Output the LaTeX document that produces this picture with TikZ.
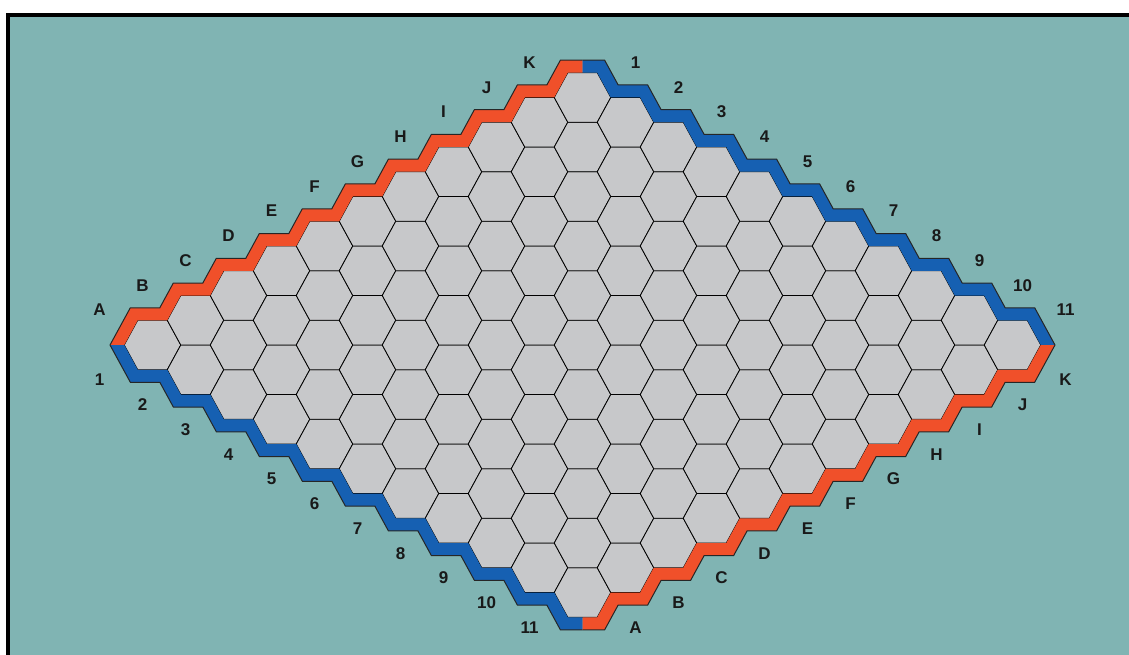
\documentclass[tikz,border=0pt]{standalone}
\usepackage{fontspec}
\setmainfont{Liberation Sans}
\usepackage{tikz}
\usetikzlibrary{calc}
\definecolor{boardteal}{RGB}{128, 180, 179}
\definecolor{cellgray}{RGB}{199, 200, 202}
\definecolor{hexred}{RGB}{240, 80, 42}
\definecolor{hexblue}{RGB}{22, 96, 178}
\tikzset{
  hexcell/.style={fill=cellgray, draw=black, line width=0.8pt, line join=round},
  redband/.style={fill=hexred},
  blueband/.style={fill=hexblue},
  bandline/.style={draw=black!85, line width=1pt, line join=miter},
  sidelabel/.style={font=\fontsize{17}{19}\selectfont\bfseries, text=black!90, inner sep=0pt},
  frameline/.style={draw=black, line width=4pt},
}
% one side of the board: band (fill style #1), label names (#2), index/label pairs (#3)
\newcommand{\boardside}[3]{%
  \fill[#1] (-472.5,0)
    \foreach \k in {0,...,9}{ -- ({43*\k-452.18},{-24.75*\k-37.25}) -- ({43*\k-422.68},{-24.75*\k-37.25}) }
    -- (-22.18,-284.75) -- (0,-284.75) -- (0,-272.25) -- (-14.75,-272.25)
    \foreach \k in {9,...,0}{ -- ({43*\k-415.25},{-24.75*\k-24.75}) -- ({43*\k-444.75},{-24.75*\k-24.75}) }
    -- (-458.25,0) -- cycle;
  \draw[bandline] (-472.5,0)
    \foreach \k in {0,...,9}{ -- ({43*\k-452.18},{-24.75*\k-37.25}) -- ({43*\k-422.68},{-24.75*\k-37.25}) }
    -- (-22.18,-284.75) -- (0,-284.75);
  \foreach \k/\t in {#3}
    \node[sidelabel] (#2-\k) at ({43*\k-483},{-24.75*\k-35}) {\t};
}

\begin{document}
\begin{tikzpicture}[x=1pt, y=-1pt]
  \useasboundingbox (0,0) rectangle (1129,655);
  \fill[white] (0,0) rectangle (1129,655);
  \fill[boardteal] (8,15) rectangle (1129,655);
  \draw[frameline] (8,655) -- (8,15) -- (1129,15);

  \begin{scope}[shift={(582.5,345)}]
    \foreach \i in {0,...,10}
      \foreach \j in {0,...,10}
        \draw[hexcell] ({43*(\i+\j-10)},{24.75*(\j-\i)})
          +(-28.25,0) -- +(-14.75,-24.75) -- +(14.75,-24.75) -- +(28.25,0)
          -- +(14.75,24.75) -- +(-14.75,24.75) -- cycle;

    \boardside{redband}{lettersnw}{0/A,1/B,2/C,3/D,4/E,5/F,6/G,7/H,8/I,9/J,10/K}
    \begin{scope}[xscale=-1]
      \boardside{blueband}{numbersne}{0/11,1/10,2/9,3/8,4/7,5/6,6/5,7/4,8/3,9/2,10/1}
    \end{scope}
    \begin{scope}[yscale=-1]
      \boardside{blueband}{numberssw}{0/1,1/2,2/3,3/4,4/5,5/6,6/7,7/8,8/9,9/10,10/11}
    \end{scope}
    \begin{scope}[xscale=-1, yscale=-1]
      \boardside{redband}{lettersse}{0/K,1/J,2/I,3/H,4/G,5/F,6/E,7/D,8/C,9/B,10/A}
    \end{scope}
  \end{scope}
\end{tikzpicture}
\end{document}
